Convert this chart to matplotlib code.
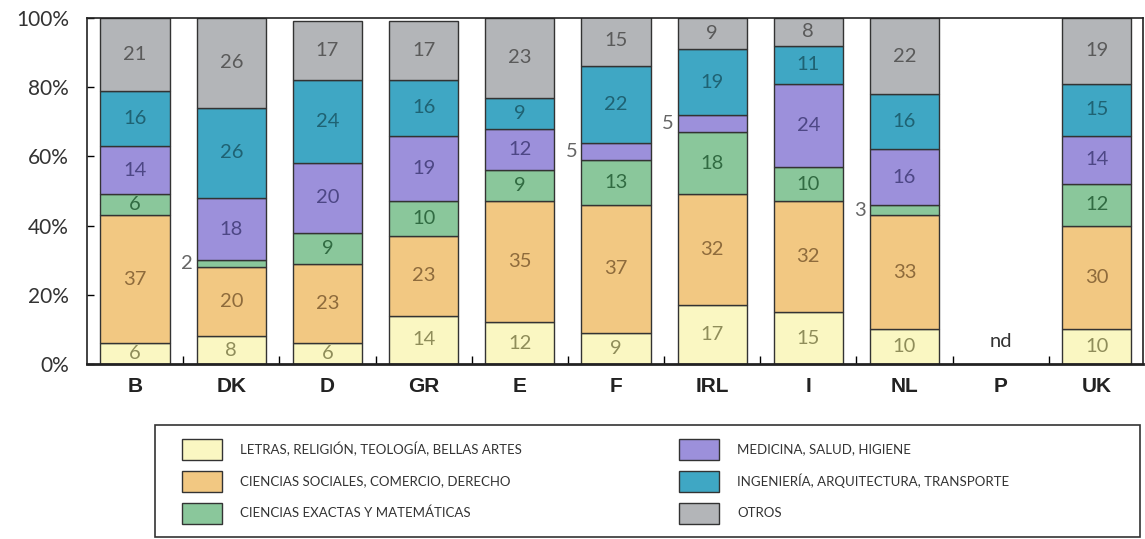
import matplotlib
matplotlib.use("Agg")
import matplotlib.pyplot as plt
from matplotlib.patches import Rectangle
import numpy as np

paises = ["B", "DK", "D", "GR", "E", "F", "IRL", "I", "NL", "P", "UK"]
areas = [
    "LETRAS, RELIGIÓN, TEOLOGÍA, BELLAS ARTES",
    "CIENCIAS SOCIALES, COMERCIO, DERECHO",
    "CIENCIAS EXACTAS Y MATEMÁTICAS",
    "MEDICINA, SALUD, HIGIENE",
    "INGENIERÍA, ARQUITECTURA, TRANSPORTE",
    "OTROS",
]
# porcentajes por área (P sin datos -> None)
letras   = [6, 8, 6, 14, 12, 9, 17, 15, 10, None, 10]
sociales = [37, 20, 23, 23, 35, 37, 32, 32, 33, None, 30]
exactas  = [6, 2, 9, 10, 9, 13, 18, 10, 3, None, 12]
medicina = [14, 18, 20, 19, 12, 5, 5, 24, 16, None, 14]
ingenier = [16, 26, 24, 16, 9, 22, 19, 11, 16, None, 15]
otros    = [21, 26, 17, 17, 23, 15, 9, 8, 22, None, 19]
series = [letras, sociales, exactas, medicina, ingenier, otros]

colores = ["#FAF7C2", "#F2C882", "#8AC79B", "#9C90DB", "#3FA7C4", "#B3B5B8"]
col_txt = ["#8f8d5a", "#8e6b3c", "#316b42", "#4d4785", "#1f6273", "#5a5a5a"]

plt.rcParams["font.family"] = ["Lato", "DejaVu Sans"]

fig = plt.figure(figsize=(11.45, 5.39), dpi=100)
ax = fig.add_axes([87 / 1145, 1 - 364 / 539, (1143 - 87) / 1145, 346 / 539])

x = np.arange(len(paises))
ancho = 0.72
base = np.zeros(len(paises))
for k, serie in enumerate(series):
    vals = np.array([np.nan if v is None else v for v in serie], dtype=float)
    ok = ~np.isnan(vals)
    ax.bar(x[ok], vals[ok], ancho, bottom=base[ok], color=colores[k],
           edgecolor="#333333", linewidth=1.0, zorder=2)
    for i in np.where(ok)[0]:
        v = vals[i]
        ymid = base[i] + v / 2
        if v <= 5:
            # segmentos estrechos: rótulo a la izquierda de la barra
            ax.text(x[i] - 0.46, ymid, f"{int(v)}", ha="center", va="center",
                    fontsize=14.5, color="#666666", zorder=3)
        else:
            ax.text(x[i], ymid, f"{int(v)}", ha="center", va="center",
                    fontsize=14.5, color=col_txt[k], zorder=3)
    base[ok] += vals[ok]

ax.text(x[paises.index("P")], 6.5, "nd", ha="center", va="center",
        fontsize=14.5, color="#333333")

ax.set_xlim(-0.5, 10.48)
ax.set_ylim(0, 100)
ax.set_yticks([0, 20, 40, 60, 80, 100])
ax.set_yticklabels(["0%", "20%", "40%", "60%", "80%", "100%"], fontsize=15,
                   color="#333333")
ax.tick_params(axis="y", direction="in", length=5, width=1, pad=13, right=False)
ax.set_xticks(x)
ax.set_xticklabels(paises, fontsize=15, fontweight="bold",
                   family="Liberation Sans", color="#222222")
ax.tick_params(axis="x", which="major", length=0, pad=9)
ax.set_xticks(x[:-1] + 0.5, minor=True)
ax.tick_params(axis="x", which="minor", direction="in", length=6, width=1)
for s in ax.spines.values():
    s.set_color("#222222")
    s.set_linewidth(1.2)
ax.spines["bottom"].set_linewidth(2)

# leyenda en coordenadas de píxel
lg = fig.add_axes([0, 0, 1, 1], zorder=-1)
lg.set_xlim(0, 1145)
lg.set_ylim(539, 0)
lg.axis("off")
lg.add_patch(Rectangle((155, 425), 985, 112, fill=False, edgecolor="#333333",
                       linewidth=1.2))
col_x = [(182, 240), (679, 737)]
fil_y = [449, 481, 513]
for k, nombre in enumerate(areas):
    sx, tx = col_x[k // 3]
    cy = fil_y[k % 3]
    lg.add_patch(Rectangle((sx, cy - 10.5), 40, 21, facecolor=colores[k],
                           edgecolor="#333333", linewidth=1.0))
    lg.text(tx, cy, nombre, ha="left", va="center", fontsize=9.5, color="#333333")

fig.savefig("out.png", dpi=100)
